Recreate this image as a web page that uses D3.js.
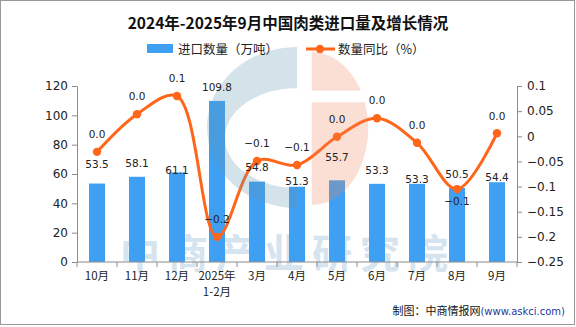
<!DOCTYPE html>
<meta charset="utf-8">
<style>
  body { margin: 0; background: #fff; }
  svg { display: block; }
</style>
<script src="https://d3js.org/d3.v7.min.js"></script>
<div id="chart"></div>
<script>
// chart data
var months = ["10月", "11月", "12月", "2025年1-2月", "3月", "4月", "5月", "6月", "7月", "8月", "9月"];
var volume = [53.5, 58.1, 61.1, 109.8, 54.8, 51.3, 55.7, 53.3, 53.3, 50.5, 54.4];
var yoy = [-0.031, 0.044, 0.08, -0.2, -0.049, -0.057, -0.001, 0.036, -0.013, -0.105, 0.006];
var yoyText = ["0.0", "0.0", "0.1", "−0.2", "−0.1", "−0.1", "0.0", "0.0", "0.0", "−0.1", "0.0"];
var leftTicks = [0, 20, 40, 60, 80, 100, 120];
var rightTicks = [0.1, 0.05, 0, -0.05, -0.1, -0.15, -0.2, -0.25];

var W = 576, H = 327;
var plot = {left: 77, right: 517, top: 86, bottom: 262};
var barColor = "#3f9ff2", lineColor = "#ff661a", axisColor = "#8c8c8c";

var svg = d3.select("#chart").append("svg")
    .attr("width", W).attr("height", H);

svg.append("rect").attr("x", 0.5).attr("y", 0.5).attr("width", 574).attr("height", 324)
    .attr("fill", "#fff").attr("stroke", "#999");

// watermark text (behind)
svg.append("text")
    .attr("x", 288).attr("y", 268)
    .attr("text-anchor", "middle")
    .style("font-family", "'Noto Sans CJK SC'")
    .style("font-weight", "bold")
    .style("font-size", "40px")
    .style("letter-spacing", "8px")
    .attr("fill", "#d5e4ef")
    .text("中商产业研究院");

// scales
var x = d3.scaleBand().domain(months).range([plot.left, plot.right])
    .paddingInner(0.6).paddingOuter(0.3);
var xb = d3.scaleBand().domain(months).range([plot.left, plot.right]);
var yL = d3.scaleLinear().domain([0, 120]).range([plot.bottom, plot.top]);
var yR = d3.scaleLinear().domain([-0.25, 0.1]).range([plot.bottom, plot.top]);

// left axis
var gl = svg.append("g").attr("transform", "translate(" + plot.left + ",0)")
    .call(d3.axisLeft(yL).tickValues(leftTicks).tickSizeOuter(0).tickSizeInner(5).tickPadding(4));
// right axis
var gr = svg.append("g").attr("transform", "translate(" + plot.right + ",0)")
    .call(d3.axisRight(yR).tickValues(rightTicks).tickFormat(d3.format("~g")).tickSizeOuter(0).tickSizeInner(5).tickPadding(5));
[gl, gr].forEach(function (g) {
    g.selectAll("path, line").attr("stroke", axisColor);
    g.selectAll("text").attr("fill", "#222")
        .style("font-family", "'DejaVu Sans'").style("font-size", "12px");
});

// bars
svg.selectAll("rect.bar")
    .data(volume)
    .enter().append("rect")
    .attr("class", "bar")
    .attr("x", function (d, i) { return x(months[i]); })
    .attr("width", x.bandwidth())
    .attr("y", function (d) { return yL(d); })
    .attr("height", function (d) { return yL(0) - yL(d); })
    .attr("fill", barColor);

// x axis
var gx = svg.append("g").attr("transform", "translate(0," + plot.bottom + ")");
gx.append("line").attr("x1", plot.left).attr("x2", plot.right)
    .attr("stroke", axisColor);
var bounds = months.map(function (m) { return xb(m); }).concat([plot.right]);
gx.selectAll("line.tk").data(bounds).enter().append("line")
    .attr("class", "tk")
    .attr("x1", function (d) { return d; }).attr("x2", function (d) { return d; })
    .attr("y1", 0).attr("y2", 5)
    .attr("stroke", axisColor);
var xl = gx.selectAll("text.xl").data(months).enter().append("text")
    .attr("class", "xl")
    .attr("x", function (d) { return xb(d) + xb.bandwidth() / 2; })
    .attr("y", 18)
    .attr("text-anchor", "middle")
    .attr("fill", "#222")
    .style("font-family", "'Noto Sans CJK SC'")
    .style("font-size", "11.5px");
xl.each(function (d) {
    var parts = d.indexOf("年") >= 0 ? [d.slice(0, d.indexOf("年") + 1), d.slice(d.indexOf("年") + 1)] : [d];
    var t = d3.select(this);
    parts.forEach(function (p, k) {
        t.append("tspan").attr("x", t.attr("x")).attr("dy", k === 0 ? 0 : 16).text(p);
    });
});

// line
var line = d3.line()
    .x(function (d, i) { return x(months[i]) + x.bandwidth() / 2; })
    .y(function (d) { return yR(d); })
    .curve(d3.curveCatmullRom);
svg.append("path").datum(yoy)
    .attr("d", line)
    .attr("fill", "none")
    .attr("stroke", lineColor)
    .attr("stroke-width", 3);
svg.selectAll("circle.pt").data(yoy).enter().append("circle")
    .attr("class", "pt")
    .attr("cx", function (d, i) { return x(months[i]) + x.bandwidth() / 2; })
    .attr("cy", function (d) { return yR(d); })
    .attr("r", 4.2)
    .attr("fill", lineColor);

// watermark logo (semi-transparent, on top of the marks)
svg.append("path")
    .attr("d", "M297,47 A90,80.5 0 0 0 297,208 Z M297,88 A72,50 0 0 0 297,188 Z")
    .attr("fill-rule", "evenodd")
    .attr("fill", "rgb(100,150,180)")
    .attr("opacity", 0.28);
svg.append("path")
    .attr("d", "M311.7,52 A56.5,76.5 0 0 1 311.7,205 Z")
    .attr("fill", "rgb(245,130,90)")
    .attr("opacity", 0.26);
svg.append("rect").attr("x", 311).attr("y", 90.7).attr("width", 60).attr("height", 11.6)
    .attr("fill", "#fff");

// bar value labels (nudged where the line passes)
var barLabelGap = [19, 13.5, 2.4, 14, 14, 6, 23, 14, 5, 14, 5];
svg.selectAll("text.bv").data(volume).enter().append("text")
    .attr("class", "bv")
    .attr("x", function (d, i) { return x(months[i]) + x.bandwidth() / 2; })
    .attr("y", function (d, i) { return yL(d) - barLabelGap[i] + 3.8; })
    .attr("text-anchor", "middle")
    .attr("fill", "#222")
    .style("font-family", "'DejaVu Sans'").style("font-size", "10.5px")
    .text(function (d) { return d3.format(".1f")(d); });

// line value labels
svg.selectAll("text.lv").data(yoy).enter().append("text")
    .attr("class", "lv")
    .attr("x", function (d, i) { return x(months[i]) + x.bandwidth() / 2; })
    .attr("y", function (d, i) { return yR(d) + (i === 9 ? 12.5 : -17.5) + 3.8; })
    .attr("text-anchor", "middle")
    .attr("fill", "#222")
    .style("font-family", "'DejaVu Sans'").style("font-size", "10.5px")
    .text(function (d, i) { return yoyText[i]; });

// title
svg.append("text")
    .attr("x", W / 2).attr("y", 29)
    .attr("text-anchor", "middle")
    .attr("fill", "#111")
    .style("font-family", "'Noto Sans CJK SC'")
    .style("font-weight", "bold")
    .style("font-size", "15.5px")
    .text("2024年-2025年9月中国肉类进口量及增长情况");

// legend
var lg = svg.append("g").style("font-family", "'Noto Sans CJK SC'").style("font-size", "12.5px");
lg.append("rect").attr("x", 147).attr("y", 44).attr("width", 26).attr("height", 9).attr("fill", barColor);
lg.append("text").attr("x", 178).attr("y", 53.5).attr("fill", "#222").text("进口数量（万吨）");
lg.append("line").attr("x1", 306).attr("x2", 335).attr("y1", 49).attr("y2", 49)
    .attr("stroke", lineColor).attr("stroke-width", 3);
lg.append("circle").attr("cx", 320).attr("cy", 49).attr("r", 4.2).attr("fill", lineColor);
lg.append("text").attr("x", 338).attr("y", 53.5).attr("fill", "#222").text("数量同比（%）");

// source note
var src = svg.append("text").attr("x", 565).attr("y", 315).attr("text-anchor", "end");
src.append("tspan").attr("fill", "#111")
    .style("font-family", "'Noto Sans CJK SC'").style("font-size", "11px")
    .text("制图：中商情报网");
src.append("tspan").attr("fill", "#1f3b9b")
    .style("font-family", "'DejaVu Sans'").style("font-size", "10px")
    .text("(www.askci.com)");
</script>
